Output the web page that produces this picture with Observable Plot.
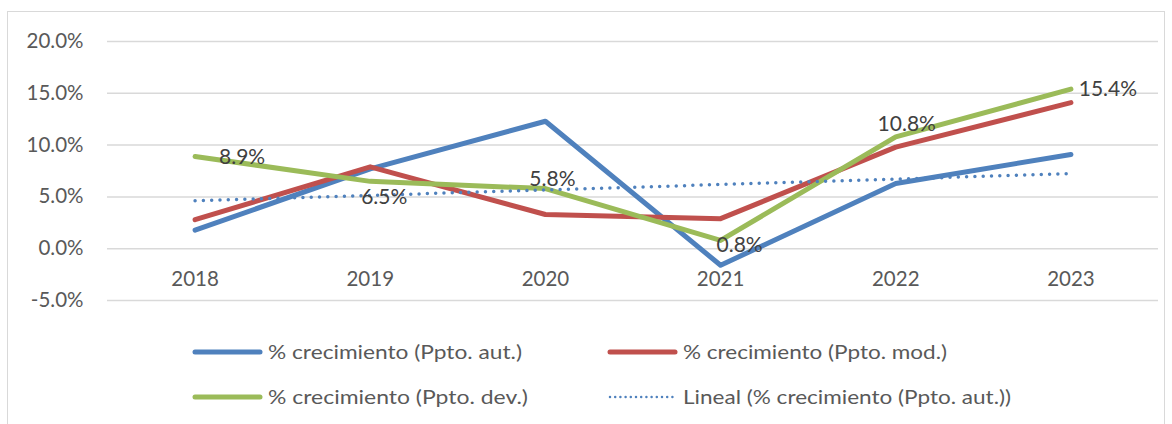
<!DOCTYPE html>
<html>
<head>
<meta charset="utf-8">
<script src="https://cdn.jsdelivr.net/npm/d3@7"></script>
<script src="https://cdn.jsdelivr.net/npm/@observablehq/plot@0.6"></script>
<style>
  html, body { margin: 0; padding: 0; background: #fff; }
  body { width: 1172px; height: 424px; position: relative; overflow: hidden; font-family: Lato, "Open Sans", sans-serif; }
  #frame { position: absolute; left: 7px; top: 11px; width: 1158px; height: 440px; border: 1.5px solid #d9d9d9; box-sizing: border-box; }
  #chart { position: absolute; left: 0; top: 0; }
  #legend { position: absolute; left: 0; top: 320px; }
</style>
</head>
<body>
<div id="frame"></div>
<div id="chart"></div>
<div id="legend"></div>
<script>
// ---- data ----
const years = [2018, 2019, 2020, 2021, 2022, 2023];
const pptoAut = [1.8, 7.7, 12.3, -1.6, 6.3, 9.1];
const pptoMod = [2.8, 7.9, 3.3, 2.9, 9.8, 14.1];
const pptoDev = [8.9, 6.5, 5.8, 0.8, 10.8, 15.4];
const yTicks = [-5, 0, 5, 10, 15, 20];
const seriesNames = [
  "% crecimiento (Ppto. aut.)",
  "% crecimiento (Ppto. mod.)",
  "% crecimiento (Ppto. dev.)",
  "Lineal (% crecimiento (Ppto. aut.))"
];

// ---- styling ----
const BLUE = "#4f81bd", RED = "#c0504d", GREEN = "#9bbb59", TXT = "#595959", GRID = "#d9d9d9";
const FONT = "Lato, 'Open Sans', sans-serif";
// label placement (dx, dy) relative to each point of the dev. series
const labelPlacement = [[47, 1], [14, 16], [7, -9], [19, 5], [11, -13], [37, 0]];

const rows = (vals) => years.map((yr, i) => ({year: yr, value: vals[i]}));
const aut = rows(pptoAut), mod = rows(pptoMod), dev = rows(pptoDev);

const lineOpts = (color) => ({x: "year", y: "value", stroke: color, strokeWidth: 5, strokeLinecap: "round", strokeLinejoin: "round"});

const labelMarks = dev.map((d, i) => Plot.text([d], {
  x: "year", y: "value", text: r => r.value.toFixed(1) + "%",
  dx: labelPlacement[i][0], dy: labelPlacement[i][1],
  fill: "#404040", fontSize: 21, fontFamily: FONT, textAnchor: "middle"
}));

const chart = Plot.plot({
  width: 1172,
  height: 320,
  marginLeft: 107,
  marginRight: 14,
  marginTop: 41,
  marginBottom: 20,
  style: {fontFamily: FONT, background: "transparent", overflow: "visible"},
  x: {type: "linear", domain: [2017.5, 2023.5], axis: null},
  y: {domain: [-5, 20], axis: null},
  marks: [
    Plot.gridY(yTicks, {stroke: GRID, strokeOpacity: 1, strokeWidth: 1.5}),
    Plot.axisY(yTicks, {tickSize: 0, tickPadding: 24, tickFormat: d => d.toFixed(1) + "%", fontSize: 20.5, fill: TXT, fontFamily: FONT, label: null}),
    Plot.text(years, {x: d => d, y: () => 0, text: d => String(d), dy: 31, fontSize: 20.5, fill: TXT, fontFamily: FONT}),
    Plot.line(aut, lineOpts(BLUE)),
    Plot.line(mod, lineOpts(RED)),
    Plot.line(dev, lineOpts(GREEN)),
    Plot.linearRegressionY(aut, {x: "year", y: "value", ci: 0, stroke: BLUE, strokeWidth: 3.5, strokeDasharray: "0 8.3", strokeLinecap: "round"}),
    ...labelMarks
  ]
});
document.getElementById("chart").appendChild(chart);

// ---- legend ----
const legendItems = [
  {name: seriesNames[0], color: BLUE, dotted: false, x: 193, y: 32},
  {name: seriesNames[1], color: RED, dotted: false, x: 608, y: 32},
  {name: seriesNames[2], color: GREEN, dotted: false, x: 193, y: 77},
  {name: seriesNames[3], color: BLUE, dotted: true, x: 608, y: 77}
];
const textLengths = [254, 264, 260, 328];
const svg = d3.create("svg").attr("width", 1172).attr("height", 104);
legendItems.forEach((it, i) => {
  const g = svg.append("g");
  g.append("line")
    .attr("x1", it.x + 2).attr("x2", it.x + 67).attr("y1", it.y).attr("y2", it.y)
    .attr("stroke", it.color)
    .attr("stroke-width", it.dotted ? 2.5 : 5)
    .attr("stroke-linecap", "round")
    .attr("stroke-dasharray", it.dotted ? "0 5.2" : null);
  g.append("text")
    .attr("x", it.x + 75).attr("y", it.y).attr("dy", "0.35em")
    .attr("fill", TXT).attr("font-family", FONT).attr("font-size", 19)
    .attr("textLength", textLengths[i]).attr("lengthAdjust", "spacingAndGlyphs")
    .text(it.name);
});
document.getElementById("legend").appendChild(svg.node());
</script>
</body>
</html>
